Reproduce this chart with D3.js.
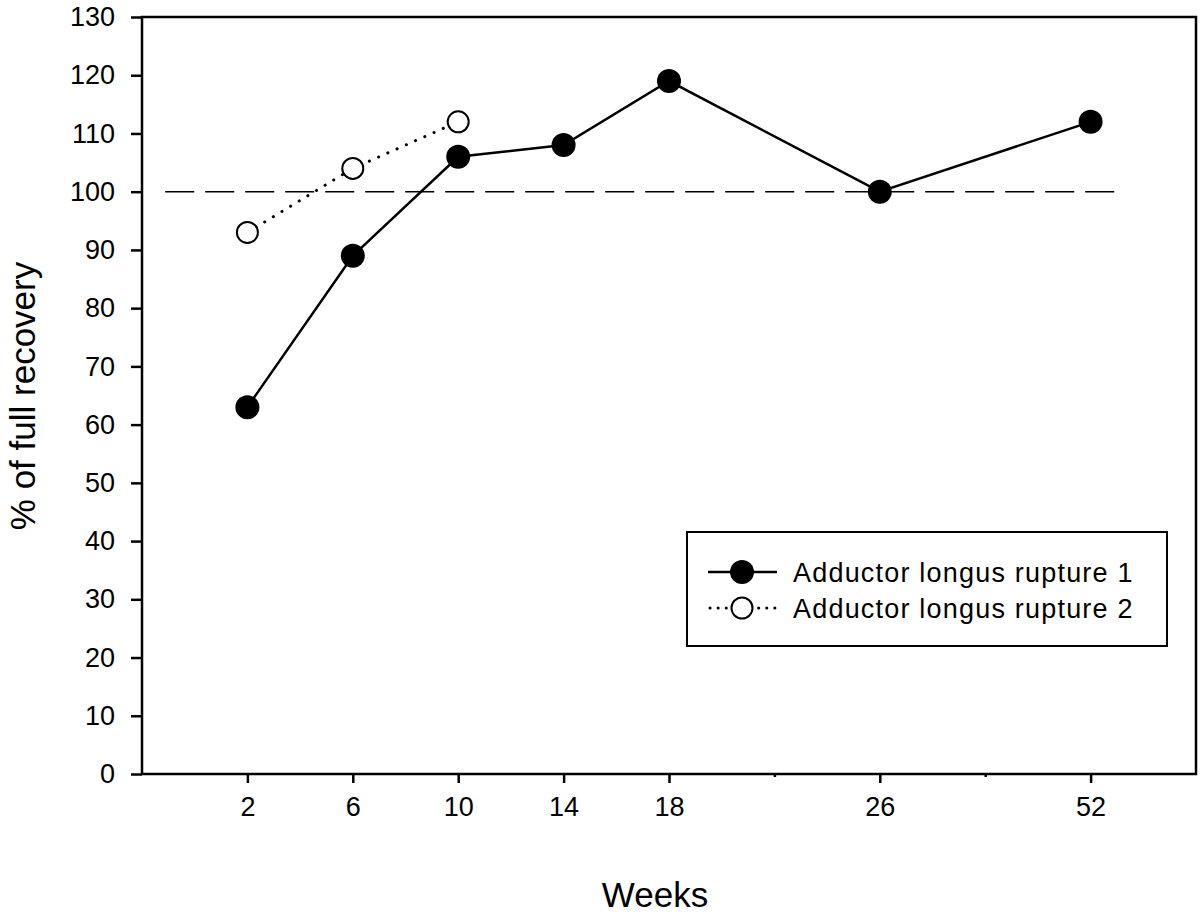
<!DOCTYPE html>
<html>
<head>
<meta charset="utf-8">
<script src="https://cdn.jsdelivr.net/npm/d3@7/dist/d3.min.js"></script>
<style>
  html, body { margin: 0; padding: 0; background: #ffffff; }
  svg { display: block; font-family: Arial, "Liberation Sans", sans-serif; }
</style>
</head>
<body>
<svg id="chart" width="1200" height="917"></svg>
<script>
// ---- data ----
const weeks = ["2", "6", "10", "14", "18", "26", "52"];
const slots = ["s0", "2", "6", "10", "14", "18", "s22", "26", "s39", "52", "s60"];
const minorSlots = ["s22", "s39"];
const rupture1 = [63, 89, 106, 108, 119, 100, 112];
const rupture2Weeks = ["2", "6", "10"];
const rupture2 = [93, 104, 112];
const yTicks = [0, 10, 20, 30, 40, 50, 60, 70, 80, 90, 100, 110, 120, 130];
const referenceValue = 100;
const seriesNames = ["Adductor longus rupture 1", "Adductor longus rupture 2"];
const xLabel = "Weeks";
const yLabel = "% of full recovery";

// ---- layout ----
const L = 142, R = 1196, T = 17, B = 774;
const svg = d3.select("#chart");

const x = d3.scalePoint().domain(slots).range([L, R]).padding(0);
const xi = d3.scaleLinear().domain([0, slots.length - 1]).range([L, R]);
const y = d3.scaleLinear().domain([0, 130]).range([B, T]);

// y axis
const yAxis = d3.axisLeft(y).tickValues(yTicks).tickSize(11).tickPadding(16);
const gy = svg.append("g").attr("transform", `translate(${L},0)`).call(yAxis);
gy.select(".domain").remove();
gy.selectAll("line").attr("stroke", "#000").attr("stroke-width", 2.5);
gy.selectAll("text").attr("font-size", 27).attr("fill", "#000")
  .attr("font-family", "Arial, 'Liberation Sans', sans-serif");

// x axis (major)
const xAxis = d3.axisBottom(x).tickValues(weeks).tickSize(9).tickPadding(14);
const gx = svg.append("g").attr("transform", `translate(0,${B})`).call(xAxis);
gx.select(".domain").remove();
gx.selectAll("line").attr("stroke", "#000").attr("stroke-width", 2.5);
gx.selectAll("text").attr("font-size", 27).attr("fill", "#000")
  .attr("font-family", "Arial, 'Liberation Sans', sans-serif");

// x minor ticks
const xMinor = d3.axisBottom(x).tickValues(minorSlots).tickSize(3).tickFormat("");
const gxm = svg.append("g").attr("transform", `translate(0,${B})`).call(xMinor);
gxm.select(".domain").remove();
gxm.selectAll("line").attr("stroke", "#000").attr("stroke-width", 2.5);

// frame
svg.append("rect")
  .attr("x", L).attr("y", T).attr("width", R - L).attr("height", B - T)
  .attr("fill", "none").attr("stroke", "#000").attr("stroke-width", 2.5);

// reference dashed line
svg.append("line")
  .attr("x1", xi(0.22)).attr("x2", xi(9.24))
  .attr("y1", y(referenceValue)).attr("y2", y(referenceValue))
  .attr("stroke", "#000").attr("stroke-width", 1.6)
  .attr("stroke-dasharray", "29,11");

// series 2 (dotted, open)
const s2 = rupture2Weeks.map((w, i) => ({ w, v: rupture2[i] }));
svg.append("path")
  .datum(s2)
  .attr("fill", "none").attr("stroke", "#000").attr("stroke-width", 3)
  .attr("stroke-dasharray", "0.1,10").attr("stroke-linecap", "round")
  .attr("d", d3.line().x(d => x(d.w)).y(d => y(d.v)));
svg.selectAll("circle.s2").data(s2).join("circle")
  .attr("class", "s2")
  .attr("cx", d => x(d.w)).attr("cy", d => y(d.v)).attr("r", 10.5)
  .attr("fill", "#fff").attr("stroke", "#000").attr("stroke-width", 2);

// series 1 (solid, filled)
const s1 = weeks.map((w, i) => ({ w, v: rupture1[i] }));
svg.append("path")
  .datum(s1)
  .attr("fill", "none").attr("stroke", "#000").attr("stroke-width", 2.5)
  .attr("d", d3.line().x(d => x(d.w)).y(d => y(d.v)));
svg.selectAll("circle.s1").data(s1).join("circle")
  .attr("class", "s1")
  .attr("cx", d => x(d.w)).attr("cy", d => y(d.v)).attr("r", 12)
  .attr("fill", "#000");

// legend
const lg = svg.append("g");
lg.append("rect").attr("x", 687).attr("y", 532).attr("width", 480).attr("height", 114)
  .attr("fill", "#fff").attr("stroke", "#000").attr("stroke-width", 2);
const rowsY = [572, 608];
// row 1
lg.append("line").attr("x1", 708).attr("x2", 777).attr("y1", rowsY[0]).attr("y2", rowsY[0])
  .attr("stroke", "#000").attr("stroke-width", 2.5);
lg.append("circle").attr("cx", 742).attr("cy", rowsY[0]).attr("r", 12).attr("fill", "#000");
// row 2
lg.append("line").attr("x1", 710).attr("x2", 777).attr("y1", rowsY[1]).attr("y2", rowsY[1])
  .attr("stroke", "#000").attr("stroke-width", 3)
  .attr("stroke-dasharray", "0.1,8").attr("stroke-linecap", "round");
lg.append("circle").attr("cx", 742).attr("cy", rowsY[1]).attr("r", 10.5)
  .attr("fill", "#fff").attr("stroke", "#000").attr("stroke-width", 2);
seriesNames.forEach((n, i) => {
  lg.append("text").attr("x", 793).attr("y", rowsY[i]).attr("dy", "0.36em")
    .attr("font-size", 27).attr("letter-spacing", 1.2).attr("fill", "#000").text(n);
});

// axis titles
svg.append("text").attr("x", (L + R) / 2 - 14).attr("y", 907)
  .attr("text-anchor", "middle").attr("font-size", 35).attr("fill", "#000").text(xLabel);
svg.append("text")
  .attr("transform", `translate(35,${396}) rotate(-90)`)
  .attr("text-anchor", "middle").attr("font-size", 35).attr("fill", "#000").text(yLabel);
</script>
</body>
</html>
